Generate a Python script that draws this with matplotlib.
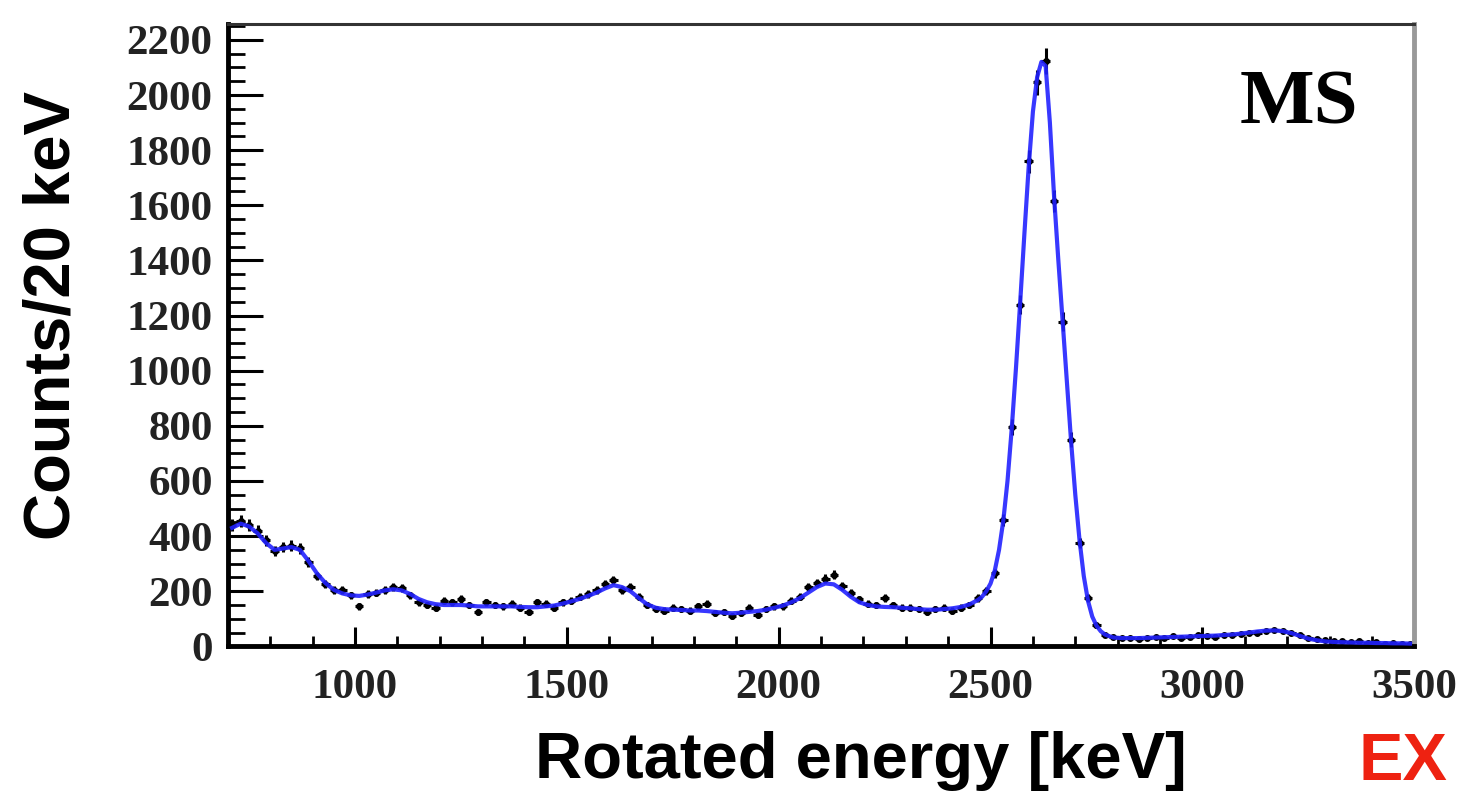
import numpy as np
import matplotlib
matplotlib.use("Agg")
import matplotlib.pyplot as plt
from matplotlib.ticker import MultipleLocator

# 20 keV bins, centres 710 ... 3490
bin_lo = 700
bin_width = 20
counts = [
    440, 455, 440, 420, 385, 345, 360, 365, 355, 305,
    255, 225, 205, 205, 185, 145, 190, 195, 205, 215,
    210, 185, 160, 150, 140, 165, 160, 172, 150, 125,
    160, 150, 145, 155, 140, 125, 160, 155, 140, 160,
    165, 180, 190, 205, 225, 240, 205, 215, 180, 150,
    135, 130, 140, 135, 130, 145, 155, 120, 125, 110,
    120, 140, 115, 135, 145, 145, 165, 180, 215, 230,
    245, 260, 220, 195, 170, 155, 150, 175, 150, 140,
    140, 135, 125, 135, 140, 130, 140, 150, 175, 200,
    265, 458, 796, 1240, 1760, 2047, 2124, 1614, 1178, 749,
    375, 175, 76, 40, 35, 30, 32, 28, 30, 35,
    30, 38, 32, 35, 40, 38, 35, 42, 40, 45,
    50, 48, 55, 60, 55, 48, 42, 30, 25, 22,
    18, 20, 15, 18, 12, 15, 10, 12, 8, 10,
]

# fit curve: 20 keV steps, 10 keV steps across the 2615 keV peak
fit_low = [
    430, 445, 435, 410, 375, 350, 355, 360, 350, 310,
    265, 230, 205, 192, 185, 183, 188, 195, 203, 207,
    203, 190, 172, 160, 153, 150, 150, 150, 148, 145,
    145, 145, 145, 145, 143, 142, 142, 145, 148, 155,
    163, 172, 183, 195, 210, 222, 215, 200, 175, 152,
    140, 135, 133, 132, 130, 130, 128, 125, 122, 120,
    122, 125, 128, 133, 140, 148, 160, 175, 195, 215,
    228, 225, 205, 180, 160, 150, 145, 143, 142, 140,
    138, 135, 133, 133, 135, 138, 143, 152, 168,
]
fit_peak = [
    180, 200, 228, 275, 350, 455, 600, 790, 1010, 1250,
    1500, 1740, 1940, 2065, 2120, 2105, 1900, 1630, 1400, 1180,
    960, 745, 550, 385, 255, 165, 108, 75, 55, 43, 37,
]
fit_high = [
    32, 30, 30, 30, 31, 32, 33, 34, 35, 36,
    37, 38, 39, 41, 43, 46, 50, 54, 57, 58,
    55, 48, 38, 28, 22, 18, 16, 15, 14, 13,
    13, 12, 12, 11, 11, 10,
]

energy = bin_lo + bin_width / 2 + bin_width * np.arange(len(counts))
fit_energy = np.concatenate([np.arange(710, 2480, 20),
                             np.arange(2480, 2790, 10),
                             np.arange(2790, 3500, 20)])
fit_counts = fit_low + fit_peak + fit_high

fig = plt.figure(figsize=(14.61, 7.96), dpi=100)
ax = fig.add_axes([0.156, 0.188, 0.812, 0.782])

ax.errorbar(energy, counts, xerr=bin_width / 2, yerr=np.sqrt(counts),
            fmt="o", ms=4, color="black", ecolor="black", elinewidth=2.2,
            capsize=0, zorder=2)
ax.plot(fit_energy, fit_counts, color="#2222ff", lw=3, alpha=0.9, zorder=3)

ax.set_xlim(700, 3500)
ax.set_ylim(0, 2258)
ax.xaxis.set_major_locator(MultipleLocator(500))
ax.xaxis.set_minor_locator(MultipleLocator(100))
ax.yaxis.set_major_locator(MultipleLocator(200))
ax.yaxis.set_minor_locator(MultipleLocator(50))

ax.tick_params(axis="y", which="major", direction="in", length=25, width=2.2, pad=11)
ax.tick_params(axis="y", which="minor", direction="in", length=12.5, width=2.0)
ax.tick_params(axis="x", which="major", direction="in", length=13.5, width=2.2, pad=16)
ax.tick_params(axis="x", which="minor", direction="in", length=7, width=2.0)

for lab in ax.get_xticklabels() + ax.get_yticklabels():
    lab.set_fontfamily("Liberation Serif")
    lab.set_fontweight("bold")
    lab.set_fontsize(31)
    lab.set_color("#222222")

ax.spines["left"].set_linewidth(3.5)
ax.spines["bottom"].set_linewidth(3.5)
ax.spines["top"].set_linewidth(2.2)
ax.spines["top"].set_color("#333333")
ax.spines["right"].set_linewidth(3.5)
ax.spines["right"].set_color("#999999")

fig.text(0.036, 0.604, "Counts/20 keV", rotation=90, ha="center", va="center",
         fontsize=47, fontweight="bold", family="Liberation Sans")
fig.text(0.589, 0.022, "Rotated energy [keV]", ha="center", va="baseline",
         fontsize=47, fontweight="bold", family="Liberation Sans")
ax.text(0.903, 0.87, "MS", transform=ax.transAxes, ha="center", va="center",
        fontsize=57, fontweight="bold", family="Liberation Serif")
fig.text(0.93, 0.002, "EX", ha="left", va="bottom", color="#ee2211",
         fontsize=48, fontweight="bold", family="Liberation Sans")

fig.savefig("out.png", dpi=100)
